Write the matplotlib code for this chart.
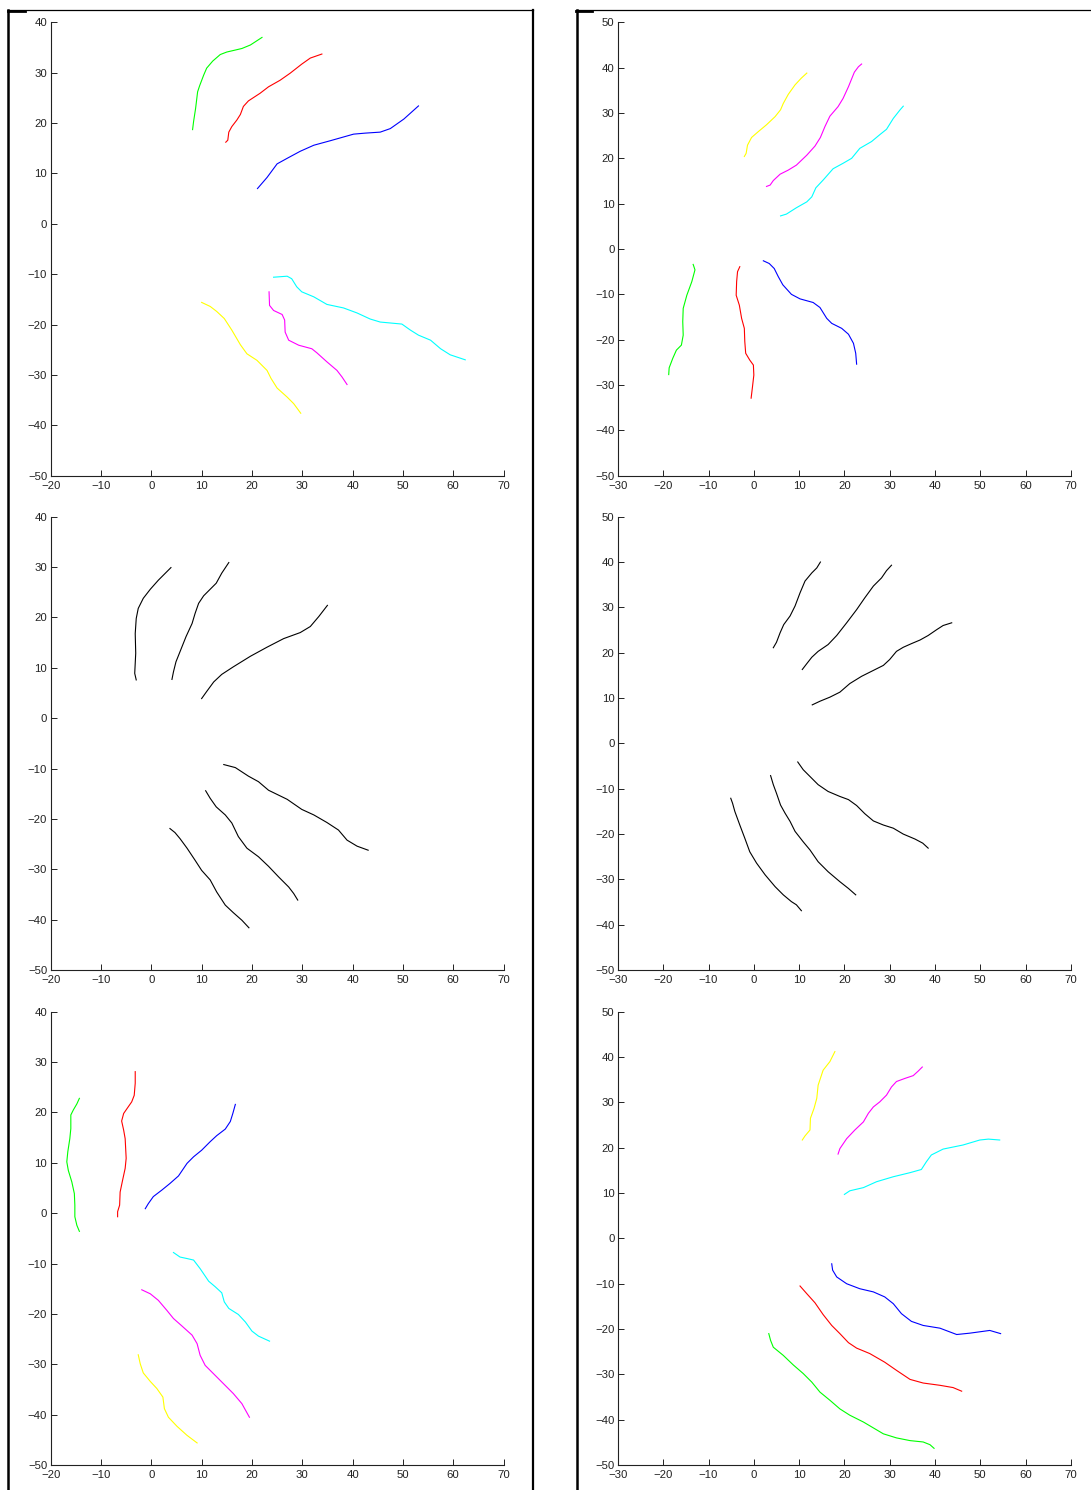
import matplotlib
matplotlib.use('Agg')
import matplotlib.pyplot as plt
from matplotlib.lines import Line2D

plt.rcParams['font.family'] = ['Liberation Sans', 'DejaVu Sans']

# colours (matlab style)
GREEN, RED, BLUE = '#00ff00', '#ff0000', '#0000ff'
CYAN, MAGENTA, YELLOW = '#00ffff', '#ff00ff', '#ffff00'

# ---- panel 1 (top left)
p1_green = [(8.2, 18.7), (8.4, 20.3), (8.8, 22.9), (9.2, 26.2), (9.6, 27.4), (10.4, 29.5), (11.0, 30.9), (12.2, 32.3), (13.7, 33.6), (15.0, 34.1), (16.3, 34.4), (18.0, 34.8), (19.7, 35.5), (22.0, 37.0)]
p1_red = [(14.8, 16.2), (15.2, 16.6), (15.4, 18.2), (16.0, 19.3), (17.0, 20.6), (17.7, 21.7), (18.3, 23.3), (19.3, 24.4), (21.6, 25.9), (23.3, 27.2), (25.6, 28.5), (27.6, 29.9), (29.9, 31.7), (31.6, 32.9), (33.9, 33.7)]
p1_blue = [(21.1, 7.0), (23.0, 9.2), (25.0, 11.9), (27.0, 13.0), (29.6, 14.4), (32.3, 15.6), (35.6, 16.5), (40.2, 17.8), (42.5, 18.0), (45.5, 18.2), (47.5, 18.9), (50.2, 20.8), (53.1, 23.4)]
p1_cyan = [(24.3, -10.6), (27.0, -10.4), (27.9, -10.9), (28.9, -12.5), (29.9, -13.5), (32.3, -14.5), (34.9, -16.0), (38.2, -16.7), (40.9, -17.7), (43.5, -18.9), (45.5, -19.5), (49.8, -19.9), (51.5, -21.1), (53.1, -22.1), (55.5, -23.1), (57.5, -24.8), (59.4, -26.0), (62.4, -27.0)]
p1_magenta = [(23.4, -13.5), (23.5, -16.2), (24.3, -17.2), (26.0, -18.0), (26.5, -19.1), (26.6, -21.5), (27.3, -23.1), (29.3, -24.1), (31.9, -24.8), (32.9, -25.6), (34.9, -27.4), (36.9, -29.1), (37.9, -30.4), (38.9, -31.9)]
p1_yellow = [(10.0, -15.6), (11.7, -16.4), (13.0, -17.4), (14.5, -18.8), (16.0, -21.1), (17.7, -24.0), (19.0, -25.8), (21.0, -27.1), (23.0, -29.1), (23.8, -30.7), (25.0, -32.6), (27.0, -34.4), (28.3, -35.7), (29.7, -37.6)]

# ---- panel 2 (top right)
p2_yellow = [(-2.1, 20.4), (-1.7, 21.1), (-1.4, 22.9), (-0.5, 24.6), (1.0, 25.9), (2.8, 27.4), (4.7, 29.2), (5.9, 30.7), (6.5, 32.1), (7.6, 34.1), (9.1, 36.2), (10.5, 37.7), (11.7, 38.8)]
p2_magenta = [(2.8, 13.8), (3.6, 14.1), (4.3, 15.1), (5.8, 16.5), (7.6, 17.4), (9.4, 18.5), (11.7, 20.7), (13.5, 22.7), (14.7, 24.6), (15.7, 27.0), (16.8, 29.3), (18.6, 31.4), (19.7, 33.2), (20.9, 35.8), (22.2, 39.0), (23.1, 40.2), (23.8, 40.8)]
p2_cyan = [(5.9, 7.3), (7.2, 7.7), (9.4, 9.1), (11.7, 10.4), (12.8, 11.5), (13.7, 13.5), (15.3, 15.2), (17.5, 17.7), (19.7, 18.9), (21.6, 20.0), (23.4, 22.2), (26.0, 23.7), (27.8, 25.2), (29.3, 26.4), (30.8, 28.8), (32.3, 30.7), (33.0, 31.5)]
p2_green = [(-18.8, -27.7), (-18.7, -26.2), (-17.9, -24.1), (-17.1, -22.3), (-16.0, -21.2), (-15.6, -19.0), (-15.7, -16.0), (-15.6, -13.1), (-14.8, -10.2), (-13.7, -7.2), (-13.0, -4.6), (-13.4, -3.4)]
p2_red = [(-3.1, -3.9), (-3.6, -5.0), (-3.8, -7.2), (-3.9, -10.2), (-3.2, -12.4), (-2.7, -15.3), (-2.1, -17.5), (-2.0, -20.4), (-1.8, -23.0), (-0.9, -24.5), (-0.1, -25.6), (0.0, -27.8), (-0.3, -30.4), (-0.6, -32.9)]
p2_blue = [(2.1, -2.6), (3.4, -3.2), (4.5, -4.3), (5.4, -6.1), (6.4, -7.9), (8.3, -10.0), (10.2, -11.0), (13.1, -11.8), (14.6, -12.9), (16.1, -15.3), (17.2, -16.4), (19.4, -17.5), (20.9, -18.8), (22.0, -20.8), (22.5, -23.0), (22.7, -25.4)]

# ---- panel 3 (middle left, black)
p3_a = [(-3.0, 7.6), (-3.3, 8.9), (-3.1, 12.9), (-3.2, 16.8), (-3.0, 19.8), (-2.6, 21.8), (-1.6, 23.8), (-0.2, 25.6), (1.4, 27.4), (2.8, 28.8), (3.9, 29.9)]
p3_b = [(4.1, 7.7), (4.4, 9.2), (4.9, 11.2), (5.7, 13.2), (6.9, 16.2), (8.1, 18.8), (8.7, 20.8), (9.4, 22.8), (10.4, 24.3), (11.7, 25.6), (12.9, 26.8), (14.0, 28.8), (15.4, 30.9)]
p3_c = [(10.0, 3.9), (11.0, 5.3), (12.4, 7.2), (14.0, 8.7), (16.3, 10.2), (19.7, 12.3), (23.0, 14.1), (26.3, 15.8), (29.6, 17.0), (31.6, 18.2), (33.3, 20.2), (35.0, 22.4)]
p3_d = [(14.4, -9.2), (16.7, -9.8), (19.3, -11.5), (21.3, -12.6), (23.3, -14.3), (27.0, -16.1), (29.9, -18.1), (32.3, -19.2), (34.9, -20.7), (37.2, -22.2), (38.9, -24.2), (40.9, -25.4), (43.1, -26.2)]
p3_e = [(10.8, -14.4), (11.7, -15.9), (12.9, -17.6), (14.7, -19.2), (16.0, -20.8), (17.3, -23.5), (19.0, -25.8), (21.3, -27.5), (23.3, -29.4), (25.3, -31.5), (27.3, -33.5), (28.3, -34.8), (29.1, -36.1)]
p3_f = [(3.7, -21.9), (4.7, -22.7), (5.7, -23.9), (7.1, -25.8), (8.7, -28.2), (10.0, -30.2), (11.7, -32.1), (13.0, -34.5), (14.7, -37.1), (16.3, -38.6), (18.0, -40.1), (19.4, -41.6)]

# ---- panel 4 (middle right, black)
p4_a = [(4.3, 21.1), (5.0, 22.3), (5.8, 24.4), (6.6, 26.2), (8.0, 28.1), (9.1, 30.3), (10.2, 33.2), (11.3, 35.8), (12.8, 37.6), (13.9, 38.7), (14.7, 40.0)]
p4_b = [(10.7, 16.3), (11.7, 17.6), (12.8, 19.0), (14.2, 20.3), (16.4, 21.8), (18.3, 23.8), (20.5, 26.6), (22.7, 29.5), (24.5, 32.1), (26.4, 34.7), (28.2, 36.5), (29.3, 38.1), (30.4, 39.3)]
p4_c = [(12.9, 8.5), (14.6, 9.3), (16.8, 10.2), (19.0, 11.3), (21.2, 13.2), (23.8, 14.8), (26.4, 16.1), (28.6, 17.2), (30.0, 18.5), (31.5, 20.3), (33.0, 21.2), (34.8, 22.0), (36.7, 22.8), (38.5, 23.8), (40.4, 25.1), (41.8, 26.0), (43.7, 26.6)]
p4_d = [(9.7, -4.1), (10.9, -5.8), (12.4, -7.3), (14.2, -9.1), (16.4, -10.6), (19.0, -11.7), (20.9, -12.4), (22.7, -13.7), (24.5, -15.5), (26.4, -17.1), (28.6, -18.0), (30.8, -18.7), (33.0, -20.0), (35.6, -21.1), (37.3, -22.0), (38.5, -23.1)]
p4_e = [(3.7, -7.1), (4.3, -9.1), (5.0, -11.0), (5.9, -13.6), (6.9, -15.4), (8.0, -17.2), (9.1, -19.4), (10.9, -21.7), (12.4, -23.5), (14.2, -26.1), (16.4, -28.3), (19.0, -30.5), (20.9, -32.0), (22.5, -33.4)]
p4_f = [(-5.1, -12.1), (-4.7, -13.2), (-4.2, -15.0), (-3.1, -18.0), (-2.0, -20.9), (-0.9, -23.9), (0.6, -26.4), (2.5, -29.0), (4.7, -31.6), (6.5, -33.4), (8.3, -34.9), (9.4, -35.6), (10.5, -36.9)]

# ---- panel 5 (bottom left)
p5_green = [(-14.3, -3.6), (-14.8, -2.4), (-15.2, -0.7), (-15.2, 1.6), (-15.3, 3.9), (-15.8, 6.2), (-16.5, 8.5), (-16.8, 10.2), (-16.6, 12.2), (-16.2, 14.8), (-16.0, 16.8), (-16.0, 19.5), (-15.5, 20.5), (-14.8, 21.7), (-14.3, 22.8)]
p5_red = [(-6.7, -0.7), (-6.7, 0.3), (-6.3, 1.6), (-6.2, 4.2), (-5.7, 6.6), (-5.2, 8.9), (-5.0, 10.9), (-5.2, 14.8), (-5.5, 16.5), (-5.9, 18.3), (-5.5, 19.8), (-4.6, 21.1), (-3.9, 22.1), (-3.4, 23.4), (-3.2, 25.8), (-3.2, 28.1)]
p5_blue = [(-1.2, 0.9), (-0.6, 1.9), (0.4, 3.3), (2.1, 4.6), (3.7, 5.9), (5.4, 7.4), (7.1, 9.9), (8.4, 11.2), (10.0, 12.5), (11.7, 14.2), (13.0, 15.4), (14.7, 16.7), (15.7, 18.2), (16.2, 19.8), (16.7, 21.6)]
p5_cyan = [(4.4, -7.8), (5.7, -8.7), (7.1, -9.0), (8.4, -9.3), (9.7, -11.0), (11.4, -13.5), (12.7, -14.6), (14.0, -15.8), (14.5, -17.6), (15.4, -18.9), (17.3, -20.1), (18.7, -21.6), (20.0, -23.4), (21.3, -24.4), (23.5, -25.4)]
p5_magenta = [(-1.9, -15.2), (-0.2, -16.0), (1.4, -17.3), (3.1, -19.3), (4.4, -20.9), (6.1, -22.4), (8.1, -24.2), (9.1, -25.9), (9.7, -28.2), (10.7, -30.2), (12.7, -32.2), (14.7, -34.2), (16.3, -35.8), (18.0, -37.8), (19.5, -40.5)]
p5_yellow = [(-2.6, -28.1), (-2.2, -29.9), (-1.6, -31.7), (-0.2, -33.4), (1.1, -34.8), (2.3, -36.5), (2.6, -38.8), (3.4, -40.5), (5.1, -42.3), (7.1, -44.1), (9.1, -45.6)]

# ---- panel 6 (bottom right)
p6_yellow = [(10.7, 21.7), (11.3, 22.6), (12.4, 23.9), (12.5, 26.5), (13.3, 28.7), (13.9, 30.9), (14.2, 33.8), (15.3, 37.1), (16.8, 39.0), (17.9, 41.2)]
p6_magenta = [(18.6, 18.6), (19.0, 19.8), (20.5, 22.0), (22.3, 23.9), (24.2, 25.7), (25.3, 27.6), (26.4, 29.0), (27.8, 30.1), (29.3, 31.6), (30.4, 33.4), (31.5, 34.6), (33.4, 35.3), (35.2, 35.9), (36.3, 36.9), (37.2, 37.8)]
p6_cyan = [(20.0, 9.7), (21.2, 10.5), (24.2, 11.2), (27.1, 12.5), (30.8, 13.6), (34.5, 14.5), (37.0, 15.2), (38.1, 16.9), (39.2, 18.4), (41.8, 19.7), (46.2, 20.6), (49.9, 21.7), (51.8, 21.9), (54.3, 21.7)]
p6_blue = [(17.2, -5.6), (17.4, -7.0), (18.3, -8.5), (20.5, -10.0), (23.4, -11.1), (26.4, -11.8), (28.9, -12.9), (30.8, -14.4), (32.6, -16.6), (34.8, -18.3), (37.4, -19.2), (41.1, -19.8), (44.8, -21.2), (47.7, -20.9), (52.1, -20.3), (54.5, -21.0)]
p6_red = [(10.2, -10.5), (11.7, -12.2), (13.5, -14.2), (15.3, -16.8), (17.2, -19.2), (19.0, -21.0), (20.9, -23.0), (22.7, -24.2), (25.6, -25.4), (28.9, -27.3), (31.5, -29.1), (34.5, -31.1), (37.4, -31.9), (41.1, -32.4), (44.0, -32.9), (45.9, -33.7)]
p6_green = [(3.3, -21.0), (3.7, -22.5), (4.3, -24.0), (6.5, -25.8), (8.7, -27.9), (10.9, -29.8), (12.8, -31.7), (14.6, -33.9), (16.8, -35.7), (19.0, -37.6), (21.2, -39.0), (24.2, -40.5), (26.4, -41.8), (28.6, -43.1), (31.5, -44.0), (34.5, -44.6), (37.4, -44.9), (38.9, -45.5), (39.8, -46.3)]

left_xticks = list(range(-20, 71, 10))
left_yticks = list(range(-50, 41, 10))
right_xticks = list(range(-30, 71, 10))
right_yticks = list(range(-50, 51, 10))

panels = [
    ([(p1_green, GREEN), (p1_red, RED), (p1_blue, BLUE), (p1_cyan, CYAN), (p1_magenta, MAGENTA), (p1_yellow, YELLOW)], 'L'),
    ([(p2_yellow, YELLOW), (p2_magenta, MAGENTA), (p2_cyan, CYAN), (p2_green, GREEN), (p2_red, RED), (p2_blue, BLUE)], 'R'),
    ([(c, 'k') for c in (p3_a, p3_b, p3_c, p3_d, p3_e, p3_f)], 'L'),
    ([(c, 'k') for c in (p4_a, p4_b, p4_c, p4_d, p4_e, p4_f)], 'R'),
    ([(p5_green, GREEN), (p5_red, RED), (p5_blue, BLUE), (p5_cyan, CYAN), (p5_magenta, MAGENTA), (p5_yellow, YELLOW)], 'L'),
    ([(p6_yellow, YELLOW), (p6_magenta, MAGENTA), (p6_cyan, CYAN), (p6_blue, BLUE), (p6_red, RED), (p6_green, GREEN)], 'R'),
]

W, H = 1091, 1490
fig = plt.figure(figsize=(W / 100, H / 100), dpi=100)

row_top = [22.3, 516.7, 1011.7]
ax_h = 453.4
col_left = {'L': 50.7, 'R': 618.0}
ax_w = 452.8

for i, (curves, side) in enumerate(panels):
    top = row_top[i // 2]
    ax = fig.add_axes([col_left[side] / W, 1 - (top + ax_h) / H, ax_w / W, ax_h / H])
    for pts, col in curves:
        xs = [p[0] for p in pts]
        ys = [p[1] for p in pts]
        ax.plot(xs, ys, color=col, lw=0.8)
    if side == 'L':
        ax.set_xlim(-20, 70); ax.set_ylim(-50, 40)
        ax.set_xticks(left_xticks); ax.set_yticks(left_yticks)
    else:
        ax.set_xlim(-30, 70); ax.set_ylim(-50, 50)
        ax.set_xticks(right_xticks); ax.set_yticks(right_yticks)
    ax.spines['top'].set_visible(False)
    ax.spines['right'].set_visible(False)
    for s in ('left', 'bottom'):
        ax.spines[s].set_linewidth(0.8)
        ax.spines[s].set_color('#222222')
    ax.tick_params(direction='in', length=4, width=0.7, labelsize=8.2,
                   colors='#222222')
    ax.tick_params(axis='y', pad=2.5)
    ax.tick_params(axis='x', pad=3.5)

# page frame round each column
def fline(x0, y0, x1, y1, lw):
    fig.add_artist(Line2D([x0 / W, x1 / W], [1 - y0 / H, 1 - y1 / H],
                          color='k', lw=lw, transform=fig.transFigure))

fline(8.3, 9.7, 8.3, H, 1.8)
fline(8.0, 9.7, 533.0, 9.7, 0.9)
fline(532.5, 9.7, 532.5, H, 1.6)
fline(8.0, 10.5, 25.0, 10.5, 2.0)
fline(576.5, 9.7, 576.5, H, 1.8)
fline(576.0, 9.7, W, 9.7, 0.9)
fline(576.0, 10.5, 592.0, 10.5, 2.0)

fig.savefig('out.png', dpi=100)
